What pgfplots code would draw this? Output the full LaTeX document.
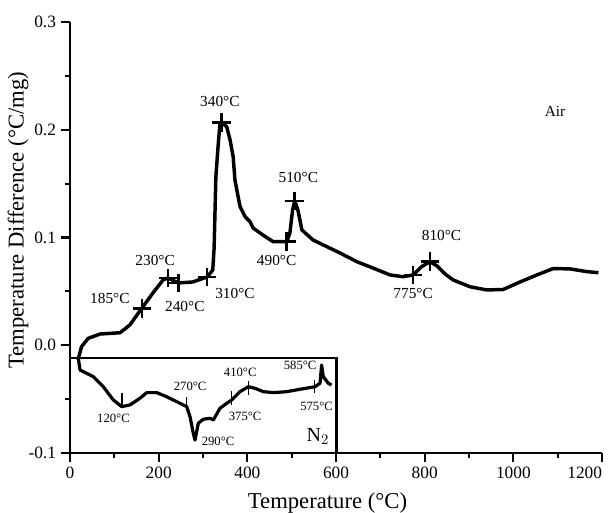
\documentclass[border=0pt]{standalone}
\usepackage{pgfplots}
\pgfplotsset{compat=1.18}
\usepackage{fontspec}
\setmainfont{Liberation Serif}

\begin{document}
\begin{tikzpicture}
\begin{axis}[
  scale only axis, width=399pt, height=323.25pt,
  xmin=0, xmax=1200, ymin=-0.1, ymax=0.3,
  axis lines=left, axis line style={line width=2.2pt,-},
  tick align=outside, tick style={line width=1.6pt,black},
  major tick length=7pt, minor tick length=4pt,
  xtick={0,200,...,1200}, minor xtick={100,300,...,1100},
  ytick={-0.1,0,0.1,0.2,0.3}, minor ytick={-0.05,0.05,0.15,0.25},
  yticklabels={-0.1,0.0,0.1,0.2,0.3},
  xticklabels={0,200,400,600,800,1000,\makebox[0pt][r]{1200}},
  ticklabel style={font=\fontsize{13}{15}\selectfont},
  xlabel={Temperature (°C)}, ylabel={Temperature Difference (°C/mg)},
  label style={font=\fontsize{17}{19}\selectfont},
  xlabel style={at={(axis description cs:0.484,-0.116)}, anchor=center},
  ylabel style={at={(axis description cs:-0.0977,0.54)}, anchor=center},
  clip=false,
]
% Air curve
\addplot[black, line width=2.6pt, line join=round] coordinates {
(18,-0.0137)(26,-0.0013)(41,0.0064)(68,0.0104)(113,0.0116)(135,0.0188)
(162,0.0343)(187,0.0485)(210,0.0606)(221,0.0624)(244,0.0578)(277,0.0587)
(309,0.0633)(322,0.0698)(325,0.090)(329,0.1564)(334.5,0.1874)(338,0.2044)(341,0.2069)
(353.5,0.2028)(361,0.1905)(368,0.175)(372,0.1534)(383.5,0.1286)(395,0.1193)
(406,0.1147)(413,0.1088)(435,0.1023)(458,0.0961)(489,0.0961)(496,0.1042)
(502,0.1255)(507,0.1339)(514,0.1255)(523,0.107)(548,0.0977)(579,0.0915)
(609,0.0856)(647,0.0775)(683,0.0717)(722,0.0652)(751,0.0636)(774,0.0652)
(793,0.0729)(812,0.0775)(828,0.0736)(846,0.0661)(864,0.0606)(902,0.0543)
(940,0.0513)(977,0.0517)(1015,0.0587)(1053,0.0652)(1090,0.0712)(1128,0.0708)
(1166,0.0683)(1192,0.0673)};
% Air markers
\addplot[black, only marks, mark=+, mark size=7pt, mark options={line width=2pt}] coordinates {
(162,0.0343)(221,0.0624)(244,0.0578)(309,0.0633)(341,0.2069)(489,0.0961)
(507,0.1339)(774,0.0652)(812,0.0775)};
% N2 curve
\addplot[black, line width=2.4pt, line join=round] coordinates {
(18.7,-0.0121)(22.6,-0.023)(30,-0.0245)(52.6,-0.0292)(75,-0.0385)(97.7,-0.0508)
(116.6,-0.057)(135.3,-0.0554)(157.9,-0.0492)(173,-0.044)(195.6,-0.044)
(218,-0.0478)(240.7,-0.0524)(263.2,-0.057)(270.7,-0.0663)(278.1,-0.0817)
(282,-0.088)(289.4,-0.0724)(300.7,-0.0687)(315.8,-0.0678)(323.2,-0.0694)
(338.3,-0.0585)(353.5,-0.0539)(364.7,-0.0508)(383.5,-0.0431)(402.2,-0.0385)
(417.3,-0.04)(436,-0.0431)(458.6,-0.044)(488.8,-0.0431)(518.8,-0.0409)
(552.6,-0.0385)(564,-0.0353)(567.5,-0.0184)(571.3,-0.0292)(582.6,-0.0353)
(590,-0.0369)};
% N2 markers
\addplot[black, only marks, mark=|, mark size=5pt, mark options={line width=1pt}] coordinates {
(117,-0.0508)(263,-0.0545)(365,-0.049)(402,-0.0397)(552,-0.0383)};
% inset frame
\draw[line width=1.6pt] (axis cs:0,-0.012) -- (axis cs:601,-0.012) -- (axis cs:601,-0.1);
% labels
\begin{scope}[font=\fontsize{11.5}{13}\selectfont]
\node at (axis cs:338,0.226) {340°C};
\node at (axis cs:192,0.079) {230°C};
\node at (axis cs:90,0.0436) {185°C};
\node at (axis cs:259,0.0358) {240°C};
\node at (axis cs:372,0.048) {310°C};
\node at (axis cs:515,0.156) {510°C};
\node at (axis cs:466,0.079) {490°C};
\node at (axis cs:838,0.1023) {810°C};
\node at (axis cs:774,0.048) {775°C};
\node at (axis cs:1094,0.217) {Air};
\end{scope}
\begin{scope}[font=\fontsize{9.5}{11}\selectfont]
\node at (axis cs:98,-0.068) {120°C};
\node at (axis cs:271,-0.0384) {270°C};
\node at (axis cs:334,-0.0895) {290°C};
\node at (axis cs:395,-0.0657) {375°C};
\node at (axis cs:384,-0.0251) {410°C};
\node at (axis cs:519,-0.0183) {585°C};
\node at (axis cs:556,-0.057) {575°C};
\end{scope}
\node[font=\fontsize{15}{17}\selectfont] at (axis cs:559,-0.085) {N$_2$};
\coordinate (bbsw) at (rel axis cs:-0.1316,-0.1392);
\coordinate (bbne) at (rel axis cs:1.0169,1.0510);
\end{axis}
\pgfresetboundingbox
\path[use as bounding box] (bbsw) rectangle (bbne);
\end{tikzpicture}
\end{document}
